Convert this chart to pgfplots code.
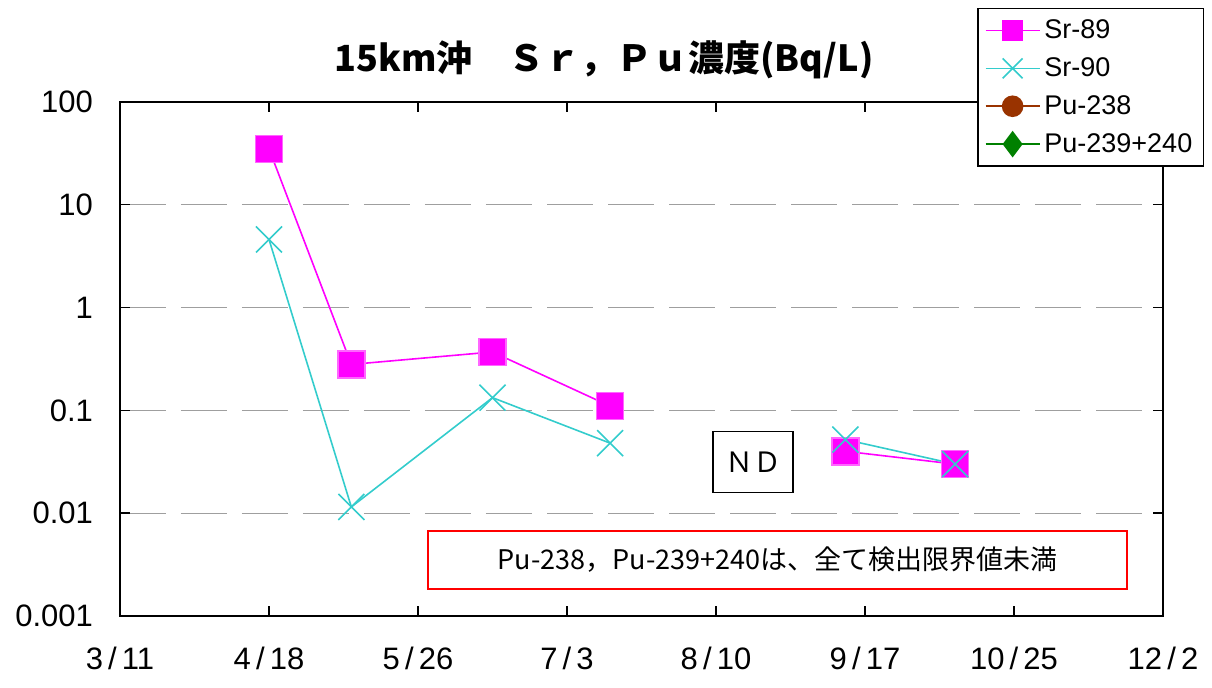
\documentclass[border=0pt]{standalone}
\usepackage{pgfplots}
\pgfplotsset{compat=1.18}
\usepackage{fontspec}
\setmainfont{Liberation Sans}
\newfontfamily\cjk{Noto Sans CJK JP}
\definecolor{srA}{RGB}{255,0,255}
\definecolor{srB}{RGB}{51,204,204}
\definecolor{puA}{RGB}{153,51,0}
\definecolor{puB}{RGB}{0,128,0}

\begin{document}
\begin{tikzpicture}
\path[use as bounding box] (-60pt,-36pt) rectangle (546pt,308pt);
\begin{axis}[
  at={(0,0)}, anchor=south west,
  scale only axis, width=521.5pt, height=257pt,
  clip=false,
  ymode=log, ymin=0.001, ymax=100,
  xmin=0, xmax=266,
  unbounded coords=jump,
  xtick={0,38,76,114,152,190,228,266},
  xticklabels={3\,/\,11,4\,/\,18,5\,/\,26,7\,/\,3,8\,/\,10,9\,/\,17,10\,/\,25,12\,/\,2},
  ytick={0.001,0.01,0.1,1,10,100},
  yticklabels={0.001,0.01,0.1,1,10,100},
  yminorticks=false,
  tick align=inside, major tick length=5pt,
  ymajorgrids, grid style={gray!75, line width=0.6pt, dash pattern=on 23pt off 7.5pt},
  axis line style={black, line width=0.7pt},
  tick style={black, line width=0.7pt},
  ticklabel style={font=\fontsize{15.5}{17}\selectfont},
  yticklabel style={xshift=-10pt},
  xticklabel style={yshift=-12pt},
  legend style={at={(1.0393,1.183)}, anchor=north east, draw=black, line width=0.7pt,
    font=\fontsize{13.5}{15}\selectfont, row sep=4pt, inner sep=3.5pt},
  legend cell align=left,
  legend image code/.code={\draw[mark repeat=2,mark phase=2,#1] plot coordinates {(0pt,0pt)(13.5pt,0pt)(27pt,0pt)};},
]
\addlegendimage{draw=srA, color=srA, line width=0.8pt, mark=square*, mark size=5pt, mark options={fill=srA, draw=srA}}
\addlegendentry{Sr-89}
\addlegendimage{draw=srB, color=srB, line width=0.8pt, mark=x, mark size=7pt, mark options={draw=srB}}
\addlegendentry{Sr-90}
\addlegendimage{draw=puA, color=puA, line width=0.8pt, mark=*, mark size=5pt, mark options={fill=puA, draw=puA}}
\addlegendentry{Pu-238}
\addlegendimage{draw=puB, color=puB, line width=0.8pt, mark=diamond*, mark size=6pt, mark options={fill=puB, draw=puB}}
\addlegendentry{Pu-239+240}

% Sr-89
\addplot[forget plot, srA, line width=0.8pt, mark=square*, mark size=6.75pt,
  mark options={fill=srA, draw=srA!60}] coordinates {
  (38,35) (59,0.28) (95,0.37) (125,0.11) (155,nan) (185,0.040) (213,0.030)
};
% Sr-90
\addplot[forget plot, srB, line width=0.8pt, mark=x, mark size=9.2pt] coordinates {
  (38,4.6) (59,0.0115) (95,0.133) (125,0.048) (155,nan) (185,0.052) (213,0.030)
};

\node[font=\cjk\bfseries\fontsize{18}{20}\selectfont] at (rel axis cs:0.464,1) [yshift=21pt]
  {15km沖　Ｓｒ，Ｐｕ濃度(Bq/L)};
\node[draw=black, line width=0.8pt, fill=white, minimum width=40pt, minimum height=30.5pt,
  inner sep=0pt, font=\cjk\fontsize{14}{16}\selectfont] at (rel axis cs:0.607,0.2996) {ＮＤ};
\node[draw=red, line width=0.8pt, fill=white, minimum width=349.5pt, minimum height=29pt,
  inner sep=0pt, font=\cjk\fontsize{13.5}{15}\selectfont] at (rel axis cs:0.6304,0.109)
  {Pu-238，Pu-239+240は、全て検出限界値未満};
\end{axis}
\end{tikzpicture}
\end{document}
